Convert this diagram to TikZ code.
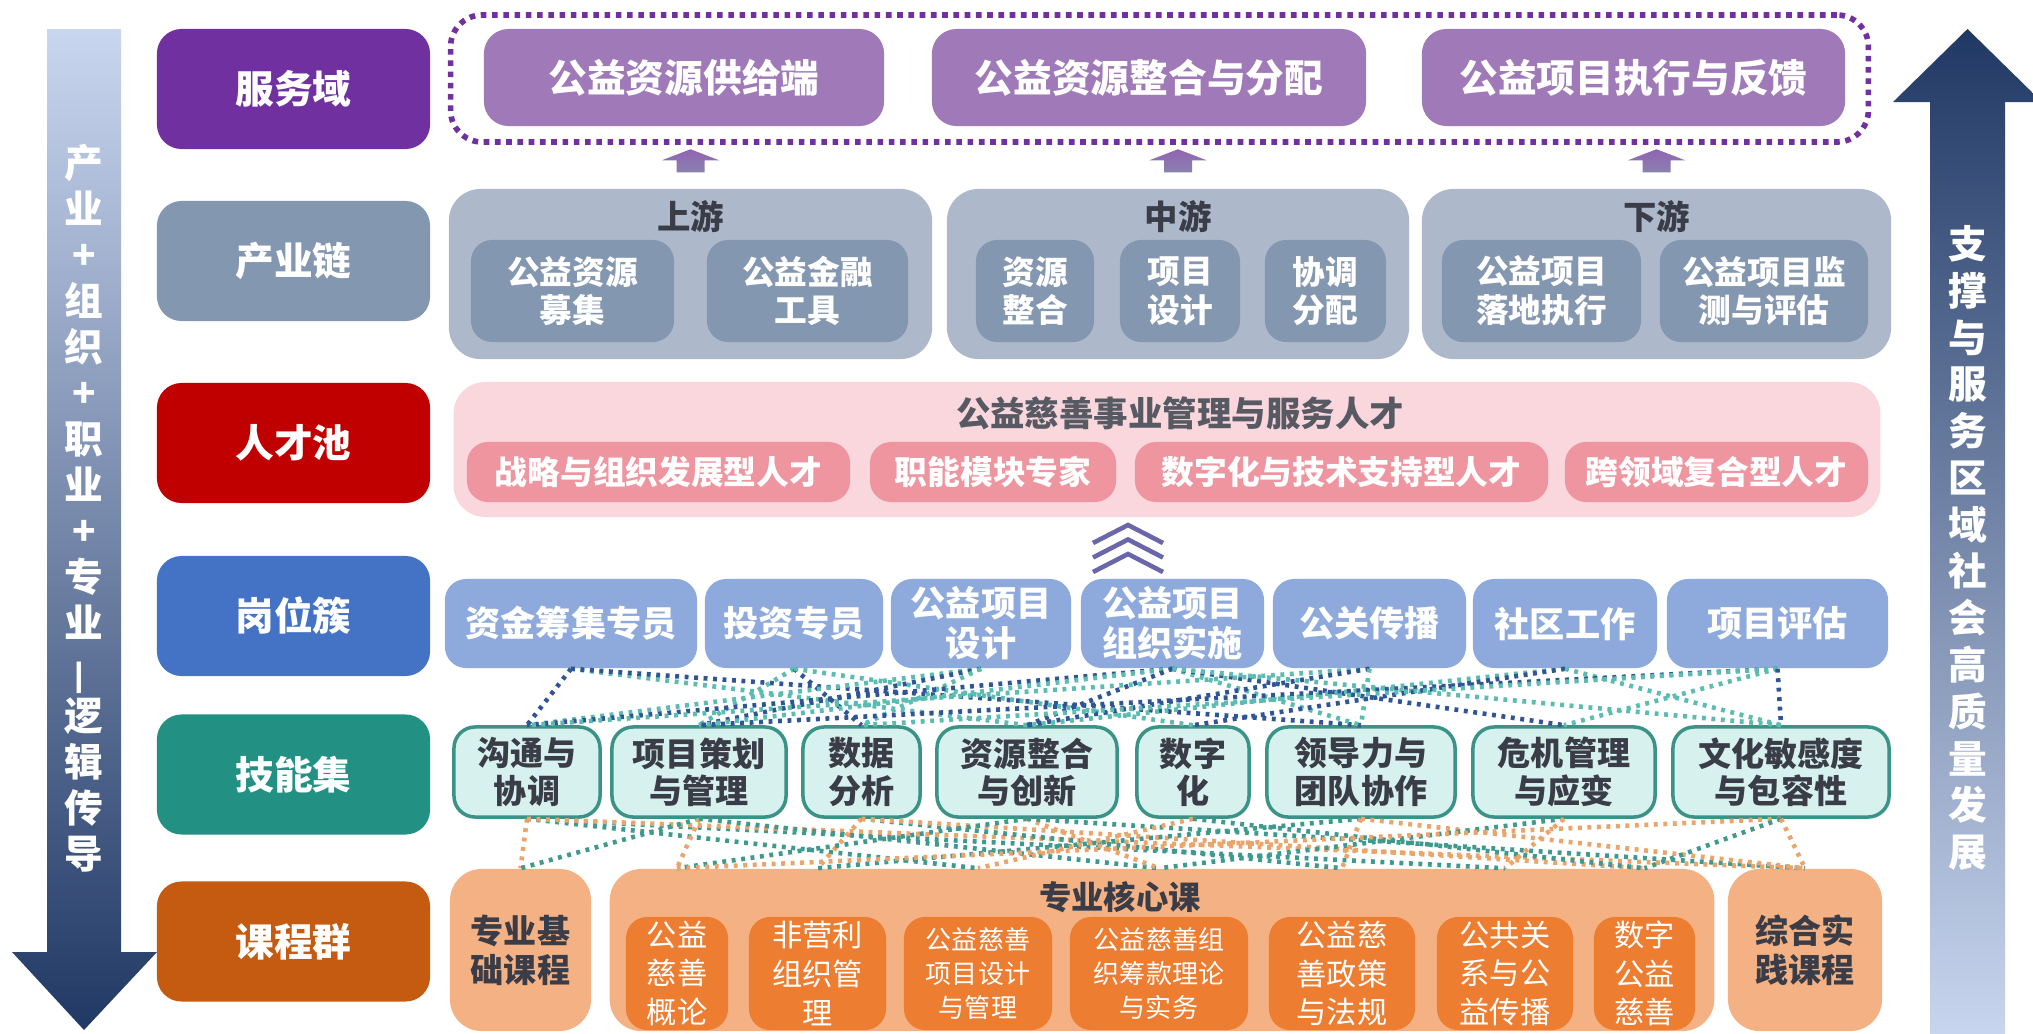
\documentclass[tikz,border=0pt]{standalone}
\usepackage{fontspec}
\setmainfont{Noto Sans CJK SC}
\usepackage{xcolor}
\usepackage{tikz}

\definecolor{svcdark}{HTML}{7030A0}
\definecolor{svclight}{HTML}{9F79B8}
\definecolor{chaindark}{HTML}{8497B0}
\definecolor{chainlight}{HTML}{ADB9CA}
\definecolor{talentdark}{HTML}{C00000}
\definecolor{talentlight}{HTML}{F9D7DC}
\definecolor{talentmid}{HTML}{EE959F}
\definecolor{jobdark}{HTML}{4472C4}
\definecolor{joblight}{HTML}{8EAADC}
\definecolor{skilldark}{HTML}{229083}
\definecolor{skilllight}{HTML}{D6F1EE}
\definecolor{skillline}{HTML}{3A9386}
\definecolor{coursedark}{HTML}{C55A11}
\definecolor{courselight}{HTML}{F4B183}
\definecolor{coursemid}{HTML}{ED7D31}
\definecolor{textdark}{HTML}{3A3D47}
\definecolor{arrowdark}{HTML}{203864}
\definecolor{arrowmid}{HTML}{4F78C6}
\definecolor{arrowpale}{HTML}{C9D6EF}
\definecolor{linkblue}{HTML}{2F5597}
\definecolor{linkteal}{HTML}{5BBDB2}
\definecolor{linkgreen}{HTML}{3E9A8F}
\definecolor{linkorange}{HTML}{EBA46A}
\definecolor{chevcol}{HTML}{6A66AA}

\begin{document}
\begin{tikzpicture}[x=0.01cm,y=-0.01cm,
        lab/.style={rounded corners=7pt, minimum width=2.73cm, minimum height=1.2cm, inner sep=0pt, text=white, font=\bfseries\fontsize{11}{13}\selectfont},
        svcframe/.style={draw=svcdark, rounded corners=9pt, line width=1.6pt, dash pattern=on 1.6pt off 1.6pt, minimum width=14.17cm, minimum height=1.27cm},
        svcbox/.style={fill=svclight, rounded corners=7pt, minimum height=0.97cm, inner sep=0pt, text=white, font=\bfseries\fontsize{11}{13}\selectfont},
        grp/.style={fill=chainlight, rounded corners=9pt, minimum height=1.7cm},
        grpttl/.style={text=textdark, font=\bfseries\fontsize{9.5}{11}\selectfont},
        chainbox/.style={fill=chaindark, rounded corners=6pt, minimum height=1.02cm, inner sep=0pt, align=center, text=white, font=\bfseries\fontsize{9.3}{11}\selectfont},
        talbox/.style={fill=talentmid, rounded corners=6pt, minimum height=0.6cm, inner sep=0pt, text=white, font=\bfseries\fontsize{9.3}{11}\selectfont},
        jobbox/.style={fill=joblight, rounded corners=6pt, minimum height=0.89cm, inner sep=0pt, align=center, text=white, font=\bfseries\fontsize{10}{11.4}\selectfont},
        skillbox/.style={fill=skilllight, draw=skillline, line width=1pt, rounded corners=6pt, minimum height=0.9cm, inner sep=0pt, align=center, text=textdark, font=\bfseries\fontsize{9.4}{10.6}\selectfont},
        coursebig/.style={fill=courselight, rounded corners=9pt, minimum height=1.62cm, inner sep=0pt, align=center, text=textdark, font=\bfseries\fontsize{9.4}{11}\selectfont},
        coursebox/.style={fill=coursemid, rounded corners=6pt, minimum height=1.13cm, inner sep=0pt, align=center, text=white},
        arrtxt/.style={align=center, text=white, font=\bfseries\fontsize{11}{13.3}\selectfont},
        link/.style={line width=1.3pt, dash pattern=on 1.1pt off 1.6pt}]

        \fill[white] (0,0) rectangle (2033,1033);
        \useasboundingbox (0,0) rectangle (2033,1033);

        % side arrows
        \shade[top color=arrowpale, middle color=arrowmid, bottom color=arrowdark] (47,29) -- (121,29) -- (121,952) -- (157,952) -- (84,1030) -- (12,952) -- (47,952) -- cycle;
        \shade[top color=arrowdark, middle color=arrowmid, bottom color=arrowpale] (1930,1040) -- (1930,102) -- (1893,102) -- (1967.5,29) -- (2042,102) -- (2005,102) -- (2005,1040) -- cycle;
        \node[arrtxt, font=\bfseries\fontsize{11}{13.1}\selectfont] (lefttxt) at (84,508) {产\\业\\+\\组\\织\\+\\职\\业\\+\\专\\业\\\rotatebox[origin=c]{90}{—}\\逻\\辑\\传\\导};
        \node[arrtxt] (righttxt) at (1967.5,548) {支\\撑\\与\\服\\务\\区\\域\\社\\会\\高\\质\\量\\发\\展};

        \foreach \n/\cy/\c/\t in {lsvc/89/svcdark/服务域, lchain/261/chaindark/产业链, ltal/443/talentdark/人才池, ljob/616/jobdark/岗位簇, lskill/774.5/skilldark/技能集, lcourse/941.5/coursedark/课程群} {
            \node[lab, fill=\c] (\n) at (293.5,\cy) {\t};
        }

        % service domain
        \node[svcframe] (svc) at (1159.5,78.5) {};
        \foreach \n/\cx/\w/\t in {sv1/684/4.00/公益资源供给端, sv2/1149/4.34/公益资源整合与分配, sv3/1633.5/4.23/公益项目执行与反馈} {
            \node[svcbox, minimum width=\w cm] (\n) at (\cx,77.5) {\t};
        }

        % industry chain
        \foreach \n/\cx/\w/\t in {g1/690.5/4.83/上游, g2/1178/4.62/中游, g3/1656.5/4.69/下游} {
            \node[grp, minimum width=\w cm] (\n) at (\cx,274) {};
            \node[grpttl] (\n-t) at (\cx,217) {\t};
            \shade[top color=svclight!70!svcdark, bottom color=chaindark] (\n.north) ++(-14,-16) -- ++(0,-12) -- ++(-14.5,0) -- ++(28.5,-11) -- ++(28.5,11) -- ++(-14.5,0) -- ++(0,12) -- cycle;
        }
        \foreach \n/\cx/\w/\t in {i1/572.5/2.03/公益资源\\募集, i2/807.5/2.01/公益金融\\工具, i3/1035/1.18/资源\\整合, i4/1180/1.20/项目\\设计, i5/1325.5/1.21/协调\\分配, i6/1541.5/1.99/公益项目\\落地执行, i7/1764/2.08/公益项目监\\测与评估} {
            \node[chainbox, minimum width=\w cm] (\n) at (\cx,291) {\t};
        }

        % talent pool
        \node[fill=talentlight, rounded corners=9pt, minimum width=14.26cm, minimum height=1.35cm] (tal) at (1167,449.5) {};
        \node[text=textdark!85, font=\bfseries\fontsize{9.8}{11}\selectfont] (tal-t) at (1180,413) {公益慈善事业管理与服务人才};
        \foreach \n/\cx/\w/\t in {p1/658.5/3.83/战略与组织发展型人才, p2/993/2.46/职能模块专家, p3/1341.5/4.13/数字化与技术支持型人才, p4/1716.5/3.03/跨领域复合型人才} {
            \node[talbox, minimum width=\w cm] (\n) at (\cx,472) {\t};
        }
        \foreach \k in {0,1,2} {
            \draw[chevcol, line width=1.3pt] (1093,{543+14.5*\k}) -- (1128,{525+14.5*\k}) -- (1163,{543+14.5*\k});
        }

        % jobs
        \foreach \n/\cx/\w/\t in {j1/571/2.52/资金筹集专员, j2/794/1.78/投资专员, j3/981/1.80/公益项目\\设计, j4/1172.5/1.83/公益项目\\组织实施, j5/1369.5/1.93/公关传播, j6/1565/1.84/社区工作, j7/1777.5/2.21/项目评估} {
            \node[jobbox, minimum width=\w cm] (\n) at (\cx,623.5) {\t};
        }

        % skills
        \foreach \n/\cx/\w/\t in {s1/527/1.46/沟通与\\协调, s2/699/1.74/项目策划\\与管理, s3/861.5/1.17/数据\\分析, s4/1027/1.80/资源整合\\与创新, s5/1193/1.12/数字\\化, s6/1361/1.88/领导力与\\团队协作, s7/1564/1.82/危机管理\\与应变, s8/1781/2.16/文化敏感度\\与包容性} {
            \node[skillbox, minimum width=\w cm] (\n) at (\cx,772) {\t};
        }

        % courses
        \node[coursebig, minimum width=1.41cm] (F) at (520.5,950) {专业基\\础课程};
        \node[coursebig, minimum width=11.04cm] (core) at (1162,950) {};
        \node[coursebig, minimum width=1.54cm] (P) at (1805,950) {综合实\\践课程};
        \node[text=textdark, font=\bfseries\fontsize{9.2}{11}\selectfont] (core-t) at (1120,897) {专业核心课};
        \foreach \n/\cx/\w/\fs/\ls/\t in {c1/677/1.02/8.6/11/公益\\慈善\\概论, c2/817.5/1.37/8.6/11/非营利\\组织管\\理, c3/978/1.48/7.4/9.6/公益慈善\\项目设计\\与管理, c4/1159/1.78/7.4/9.6/公益慈善组\\织筹款理论\\与实务, c5/1342/1.46/8.6/11/公益慈\\善政策\\与法规, c6/1505/1.36/8.6/11/公共关\\系与公\\益传播, c7/1644.5/1.01/8.6/11/数字\\公益\\慈善} {
            \node[coursebox, minimum width=\w cm, font=\fontsize{\fs}{\ls}\selectfont] (\n) at (\cx,973.5) {\t};
        }

        % job -> skill
        \foreach \a/\b/\c in {j1/s1/linkblue, j1/s4/linkteal, j1/s6/linkblue, j2/s2/linkteal, j2/s3/linkblue, j2/s5/linkteal, j3/s1/linkteal, j3/s2/linkblue, j3/s3/linkteal, j4/s1/linkblue, j4/s2/linkteal, j4/s4/linkblue, j4/s6/linkteal, j4/s7/linkblue, j4/s8/linkteal, j5/s1/linkteal, j5/s4/linkblue, j5/s6/linkteal, j6/s4/linkteal, j6/s5/linkblue, j6/s8/linkteal, j7/s2/linkblue, j7/s3/linkteal, j7/s7/linkteal, j7/s8/linkblue} {
            \draw[link, \c] (\a.south) -- (\b.north);
        }

        % skill -> course
        \foreach \a/\b/\c in {s1/F/linkorange, s1/c3/linkgreen, s1/c6/linkgreen, s1/P/linkorange, s2/F/linkgreen, s2/c1/linkorange, s2/c4/linkgreen, s3/c2/linkorange, s3/c5/linkgreen, s3/c7/linkorange, s4/c1/linkgreen, s4/c4/linkorange, s4/P/linkgreen, s5/c3/linkorange, s5/c7/linkgreen, s6/c2/linkgreen, s6/c5/linkorange, s6/P/linkorange, s7/c4/linkgreen, s7/c6/linkorange, s8/c1/linkorange, s8/c7/linkgreen, s8/P/linkorange} {
            \draw[link, \c] (\a.south) -- (\b |- core.north);
        }
    \end{tikzpicture}
\end{document}
